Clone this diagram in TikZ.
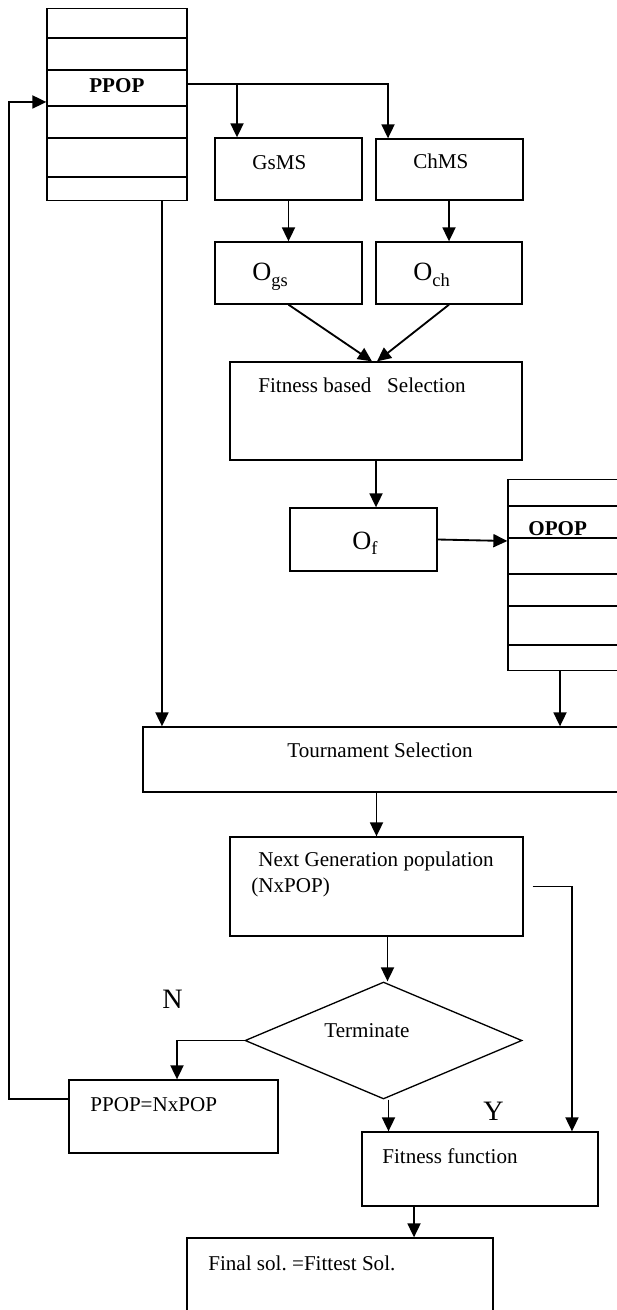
\documentclass[tikz,border=0pt]{standalone}
\usepackage{fontspec}
\setmainfont{Liberation Serif}
\usepackage{tikz}
\usetikzlibrary{shapes.geometric, arrows.meta, positioning, calc}
\frenchspacing
\newcommand{\offsub}[1]{{\fontsize{10.5}{12}\selectfont\raisebox{-0.12cm}{#1}}}
\tikzset{
    % Plain boxes
    plain box/.style={
        rectangle, draw=black, line width=0.75pt, inner sep=0pt
    },
    % Population stacks
    pop box/.style={
        plain box, minimum width=#1, minimum height=3.83cm
    },
    % Decision
    decision/.style={
        diamond, draw=black, line width=0.75pt, inner sep=0pt,
        minimum width=5.54cm, minimum height=2.34cm
    },
    % Texts
    box text/.style={
        anchor=base west, inner sep=0pt, font=\fontsize{12}{14.4}\selectfont
    },
    big text/.style={
        anchor=base west, inner sep=0pt, font=\fontsize{15}{18}\selectfont
    },
    branch text/.style={
        anchor=base west, inner sep=0pt, font=\fontsize{16}{19}\selectfont
    },
    % Arrows
    row line/.style={line width=0.75pt},
    flow arrow/.style={
        -{Triangle[length=0.28cm, width=0.26cm]}, line width=1.05pt
    }
}
\begin{document}
\begin{tikzpicture}[x=0.02cm, y=-0.02cm]

    \useasboundingbox (0,0) rectangle (617,1310);
    \clip (0,0) rectangle (617,1310);

    % Parent population
    \node[pop box=2.8cm] (ppop) at (117,104.5) {};
    \foreach \y in {38,70,106,138,177}
        \draw[row line] (ppop.west |- 0,\y) -- (ppop.east |- 0,\y);
    \node[box text, font=\fontsize{12}{14.4}\selectfont\bfseries] (ppoplbl) at (89,93) {PPOP};

    % Mutation strategies
    \node[plain box, minimum width=2.94cm, minimum height=1.24cm] (gsms) at (288.5,169) {};
    \node[box text] (gsmslbl) at (252,170) {GsMS};
    \node[plain box, minimum width=2.94cm, minimum height=1.22cm] (chms) at (449.5,169.5) {};
    \node[box text] (chmslbl) at (413,169) {ChMS};

    % Offspring
    \node[plain box, minimum width=2.94cm, minimum height=1.24cm] (ogs) at (288.5,273) {};
    \node[big text] (ogslbl) at (252,281) {O\offsub{gs}};
    \node[plain box, minimum width=2.92cm, minimum height=1.24cm] (och) at (449,273) {};
    \node[big text] (ochlbl) at (413,281) {O\offsub{ch}};

    % Fitness based selection
    \node[plain box, minimum width=5.84cm, minimum height=1.96cm] (fbs) at (376,411) {};
    \node[box text] (fbslbl) at (258,393) {Fitness based~~~Selection};

    \node[plain box, minimum width=2.94cm, minimum height=1.26cm] (of) at (363.5,539.5) {};
    \node[big text] (oflbl) at (352,549) {O\offsub{f}};

    % Offspring population
    \node[pop box=2.34cm] (opop) at (566.5,575) {};
    \foreach \y in {506,538,574,606,645}
        \draw[row line] (opop.west |- 0,\y) -- (opop.east |- 0,\y);
    \node[box text, font=\fontsize{12}{14.4}\selectfont\bfseries] (opoplbl) at (528,535) {OPOP};

    % Tournament selection
    \node[plain box, minimum width=9.52cm, minimum height=1.3cm] (tour) at (381,759.5) {};
    \node[box text] (tourlbl) at (287,757) {Tournament Selection};

    % Next generation
    \node[plain box, minimum width=5.86cm, minimum height=1.98cm] (ng) at (376.5,886.5) {};
    \node[box text, anchor=north west, align=left] (nglbl) at (251,852)
        {\hspace*{0.14cm}Next Generation population\\(NxPOP)};

    % Termination test
    \node[decision] (dia) at (383.5,1040.5) {};
    \node[box text] (dialbl) at (324,1037) {Terminate};
    \node[branch text] (nlbl) at (162,1008) {N};
    \node[branch text] (ylbl) at (483,1120) {Y};

    \node[plain box, minimum width=4.18cm, minimum height=1.46cm] (ppnx) at (173.5,1116.5) {};
    \node[box text] (ppnxlbl) at (90,1111) {PPOP=NxPOP};

    \node[plain box, minimum width=4.72cm, minimum height=1.48cm] (ff) at (480,1169) {};
    \node[box text] (fflbl) at (382,1163) {Fitness function};

    \node[plain box, minimum width=6.12cm, minimum height=1.84cm] (final) at (340,1284) {};
    \node[box text] (finallbl) at (208,1270) {Final sol. =Fittest Sol.};

    % Connectors
    \coordinate (split) at (237,84);
    \coordinate (lb) at (9,1099);
    \coordinate (lt) at (9,102);
    \draw[flow arrow] (ppop.east |- split) -| ([xshift=-1.23cm]chms.north);
    \draw[flow arrow] (split) -- (split |- gsms.north);
    \draw[flow arrow] (gsms) -- (ogs);
    \draw[flow arrow] (chms.south -| och.north) -- (och.north);
    \draw[flow arrow] (ogs.south) -- ([xshift=-0.08cm]fbs.north);
    \draw[flow arrow] (och.south) -- ([xshift=0.02cm]fbs.north);
    \draw[flow arrow] (fbs.south) -- (fbs.south |- of.north);
    \draw[flow arrow] (of.east) -- (opop.west |- 0,541);
    \draw[flow arrow] ([xshift=0.9cm]ppop.south) -- ([xshift=0.9cm]ppop.south |- tour.north);
    \draw[flow arrow] ([xshift=-0.13cm]opop.south) -- ([xshift=-0.13cm]opop.south |- tour.north);
    \draw[flow arrow] (ng.north |- tour.south) -- (ng.north);
    \draw[flow arrow] ([xshift=0.08cm]dia.north |- ng.south) -- ([xshift=0.08cm]dia.north);
    \draw[flow arrow] (dia.west) -| ([xshift=0.07cm]ppnx.north);
    \draw[flow arrow] ([xshift=0.1cm]dia.south) -- ([xshift=0.1cm]dia.south |- ff.north);
    \draw[flow arrow] ([xshift=0.18cm]ng.east) -| ([xshift=1.84cm]ff.north);
    \draw[flow arrow] ([xshift=-1.32cm]ff.south) -- ([xshift=-1.32cm]ff.south |- final.north);
    \draw[flow arrow] (ppnx.west |- lb) -- (lb) -- (lt) -- (ppop.west |- lt);

\end{tikzpicture}
\end{document}
